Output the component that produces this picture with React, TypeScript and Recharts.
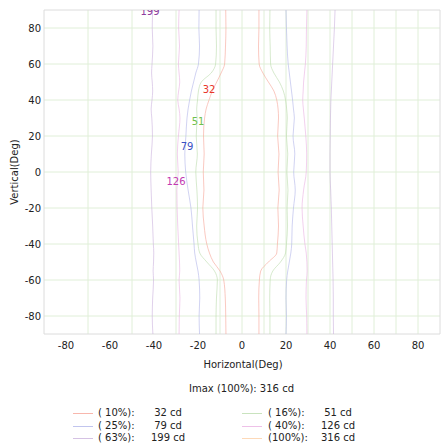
import { ComposedChart, Line, Scatter, XAxis, YAxis, CartesianGrid, ReferenceArea } from 'recharts';

const vAngles = [90, 80, 70, 60, 55, 50, 45, 40, 35, 30, 20, 10, 0, -10, -20, -30, -40, -45, -50, -55, -60, -70, -80, -90];

// horizontal angle (deg) of the left / right edge of each iso-candela contour
const c10Left = [-7.4, -7.3, -7.5, -7.9, -9.5, -11.5, -13.5, -15, -16.3, -17, -17.5, -17.2, -17.6, -17.3, -17.8, -17.2, -16, -14.8, -13, -10, -8.3, -7.6, -7.4, -7.3];
const c10Right = [7.7, 7.7, 7.5, 7.8, 9.5, 12, 14.5, 15.8, 16.4, 16.6, 16.2, 16.8, 16.4, 16.9, 16.3, 16.6, 16.1, 15.8, 12, 8.5, 7.9, 7.6, 7.7, 7.7];
const c16Left = [-11.8, -11.8, -11.6, -12, -14, -18.5, -19.8, -20.2, -20.6, -20.4, -20.8, -20.3, -21, -20.5, -20.2, -20.6, -20, -19.2, -16, -12.5, -11.2, -11.6, -11.8, -11.8];
const c16Right = [12.7, 12.6, 12.8, 13, 14.5, 17, 18.8, 19.8, 20.3, 20.6, 20.2, 20.8, 20.4, 20.9, 20.5, 20.7, 20.2, 19.8, 17.5, 14, 12.8, 12.6, 12.7, 12.7];
const c25Left = [-19.5, -19.6, -19.3, -19.8, -21, -22, -23, -23.8, -24.5, -25, -25.5, -26, -25.6, -24.5, -23.2, -22.5, -21.8, -21.5, -20.8, -20, -19.5, -19.2, -19.5, -19.3];
const c25Right = [20, 20.2, 20.5, 21, 21.5, 22, 22.5, 23, 23.4, 23.8, 23.2, 24, 23.5, 24.2, 23.4, 22.8, 22.6, 22.2, 21.5, 20.8, 20.3, 20, 20.2, 20];
const c40Left = [-28.6, -28.8, -28.4, -28.9, -28.6, -28.3, -28.8, -29.2, -28.6, -28.2, -28.9, -29.4, -29, -29.6, -29.5, -29.2, -28.8, -28.6, -28.4, -28.3, -28.6, -28.2, -28.5, -28.6];
const c40Right = [29.5, 29.3, 29.2, 28.8, 28.4, 28, 27.8, 27.6, 27.9, 28.3, 29, 29.4, 29.2, 28, 27.3, 27.8, 28.6, 29.2, 29.5, 29.6, 29.3, 29.1, 29.4, 29.5];
const c63Left = [-40.6, -40.8, -40.5, -40.9, -41.1, -40.8, -40.6, -40.9, -41.3, -41, -40.7, -41.2, -41.5, -41.3, -41, -40.6, -40.3, -40.1, -40.2, -40.4, -40.2, -40.6, -40.8, -40.5];
const c63Right = [42.3, 42, 41.6, 41.2, 41, 40.8, 40.6, 40.4, 40.3, 40.2, 40.1, 40, 40, 40.3, 40.6, 40.8, 41, 41.1, 41.2, 41.3, 41.4, 41.5, 41.5, 41.6];

const axisTicks = [-80, -60, -40, -20, 0, 20, 40, 60, 80];
const gridValues = [-80, -70, -60, -50, -40, -30, -20, -10, 0, 10, 20, 30, 40, 50, 60, 70, 80];

// contour value labels drawn on the plot
const labelTexts = ['199', '32', '51', '79', '126'];
const labelX = [-41.8, -15, -20, -25, -30];
const labelY = [89.4, 45.6, 27.8, 13.9, -5];
const labelColors = ['#8e3c9e', '#e8352a', '#6fc04c', '#3a50c4', '#c23ab2'];

// legend
const legendPct = ['( 10%):', '( 16%):', '( 25%):', '( 40%):', '( 63%):', '(100%):'];
const legendCd = ['32 cd', '51 cd', '79 cd', '126 cd', '199 cd', '316 cd'];
const lineColors = ['#f6a598', '#bcdcae', '#b2b6ea', '#eab2e2', '#cbb3dd', '#fcd0a6'];

const toPoints = (xs: number[]) => vAngles.map((y, i) => ({ x: xs[i], y }));

const contours = [
  { left: c10Left, right: c10Right, color: lineColors[0] },
  { left: c16Left, right: c16Right, color: lineColors[1] },
  { left: c25Left, right: c25Right, color: lineColors[2] },
  { left: c40Left, right: c40Right, color: lineColors[3] },
  { left: c63Left, right: c63Right, color: lineColors[4] },
];

const labelPoints = labelTexts.map((t, i) => ({ x: labelX[i], y: labelY[i], text: t, color: labelColors[i] }));

const font = '"DejaVu Sans", Verdana, sans-serif';
const lineOpacity = 0.6;

export default function App() {
  return (
    <div style={{ position: 'absolute', left: 0, top: 0, width: 441, height: 446, fontFamily: font, background: '#fff' }}>
      <ComposedChart width={441} height={446} margin={{ top: 10, right: 1, bottom: 0, left: 0 }}>
        <CartesianGrid stroke="#e0efd8" verticalValues={gridValues} horizontalValues={gridValues} />
        <XAxis
          dataKey="x"
          type="number"
          domain={[-90, 90]}
          ticks={axisTicks}
          height={112}
          tickLine={false}
          axisLine={false}
          tickSize={0}
          tickMargin={8}
          tick={{ fontSize: 10, fill: '#222', fontFamily: font }}
          allowDataOverflow
        />
        <YAxis
          dataKey="y"
          type="number"
          domain={[-90, 90]}
          ticks={axisTicks}
          width={44}
          tickLine={false}
          axisLine={false}
          tickSize={0}
          tickMargin={3}
          tick={{ fontSize: 10, fill: '#222', fontFamily: font }}
          allowDataOverflow
        />
        <ReferenceArea x1={-90} x2={90} y1={-90} y2={90} fill="none" stroke="#dcdcdc" strokeOpacity={1} />
        {contours.map((c, i) => [
          <Line
            key={`l${i}`}
            data={toPoints(c.left)}
            dataKey="y"
            type="monotoneY"
            stroke={c.color}
            strokeOpacity={lineOpacity}
            strokeWidth={1}
            dot={false}
            activeDot={false}
            isAnimationActive={false}
          />,
          <Line
            key={`r${i}`}
            data={toPoints(c.right)}
            dataKey="y"
            type="monotoneY"
            stroke={c.color}
            strokeOpacity={lineOpacity}
            strokeWidth={1}
            dot={false}
            activeDot={false}
            isAnimationActive={false}
          />,
        ])}
        <Scatter
          data={labelPoints}
          dataKey="y"
          isAnimationActive={false}
          shape={(p: any) => (
            <text
              x={p.cx}
              y={p.cy}
              textAnchor="middle"
              dominantBaseline="central"
              fontSize={10}
              fontFamily={font}
              fill={p.payload.color}
            >
              {p.payload.text}
            </text>
          )}
        />
      </ComposedChart>

      <div
        style={{
          position: 'absolute',
          left: 14,
          top: 172,
          transform: 'translate(-50%, -50%) rotate(-90deg)',
          fontSize: 10,
          color: '#222',
          whiteSpace: 'nowrap',
        }}
      >
        Vertical(Deg)
      </div>
      <div style={{ position: 'absolute', left: 0, width: 486, top: 359, textAlign: 'center', fontSize: 10, color: '#222' }}>
        Horizontal(Deg)
      </div>
      <div style={{ position: 'absolute', left: 0, width: 483, top: 383, textAlign: 'center', fontSize: 10, color: '#222' }}>
        Imax (100%): 316 cd
      </div>

      {legendPct.map((pct, i) => {
        const col = i % 2;
        const row = Math.floor(i / 2);
        const top = 413 + row * 12.5;
        const segLeft = col === 0 ? 73 : 242;
        const pctLeft = col === 0 ? 98 : 268;
        const cdCenter = col === 0 ? 168 : 338;
        return (
          <div key={pct} style={{ fontSize: 10, color: '#222' }}>
            <div style={{ position: 'absolute', left: segLeft, top, width: 20, height: 1, background: lineColors[i], opacity: 0.8 }} />
            <div style={{ position: 'absolute', left: pctLeft, top: top - 6, whiteSpace: 'pre', lineHeight: '12px' }}>{pct}</div>
            <div style={{ position: 'absolute', left: cdCenter - 20, width: 40, top: top - 6, textAlign: 'center', whiteSpace: 'pre', lineHeight: '12px' }}>
              {legendCd[i]}
            </div>
          </div>
        );
      })}
    </div>
  );
}
